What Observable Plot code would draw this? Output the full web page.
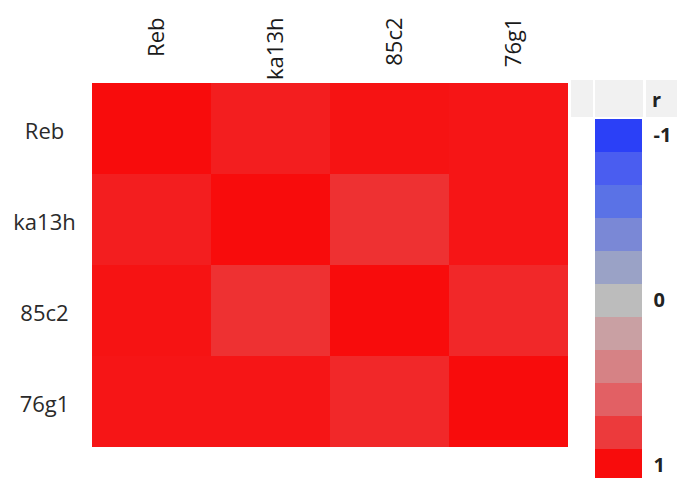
<!DOCTYPE html>
<html>
<head>
<meta charset="utf-8">
<script src="https://cdn.jsdelivr.net/npm/d3@7"></script>
<script src="https://cdn.jsdelivr.net/npm/@observablehq/plot@0.6"></script>
<style>
  html, body { margin: 0; padding: 0; background: #fff; overflow: hidden; }
  #wrap { position: relative; width: 677px; height: 478px; overflow: hidden; }
  #main { position: absolute; left: 0; top: 0; }
  #legend { position: absolute; left: 570px; top: 0; }
  .hdr { position: absolute; top: 80px; height: 37px; background: #f1f1f1; }
  #rlab { position: absolute; left: 652px; top: 86px; font: 700 20px "Open Sans", sans-serif; color: #222; }
</style>
</head>
<body>
<div id="wrap">
  <div id="main"></div>
  <div class="hdr" style="left:571px;width:22px"></div>
  <div class="hdr" style="left:595px;width:48px"></div>
  <div class="hdr" style="left:646px;width:31px"></div>
  <div id="legend"></div>
  <div id="rlab">r</div>
</div>
<script>
// Variables (rows and columns of the correlation matrix)
const variables = ["Reb", "ka13h", "85c2", "76g1"];
// Correlation values, one row per variable
const rowReb   = [1.00, 0.92, 0.97, 0.96];
const rowKa13h = [0.92, 1.00, 0.84, 0.96];
const row85c2  = [0.97, 0.84, 1.00, 0.88];
const row76g1  = [0.96, 0.96, 0.88, 1.00];
// Color legend steps and their colors
const legendSteps = [-1, -0.8, -0.6, -0.4, -0.2, 0, 0.2, 0.4, 0.6, 0.8, 1];
const legendColors = ["#2b40f7", "#4a5df0", "#5a72e6", "#7a88d6", "#9aa2c6", "#bcbcbc",
                      "#c9a0a3", "#d68285", "#e26064", "#ec3a3c", "#f80c0c"];
const legendLabels = [-1, 0, 1];

const matrix = [rowReb, rowKa13h, row85c2, row76g1];
const cells = [];
matrix.forEach((vals, i) => vals.forEach((r, j) => cells.push({row: variables[i], col: variables[j], r})));

const colorScale = {type: "linear", domain: legendSteps, range: legendColors, interpolate: "rgb"};
const font = '"Open Sans", sans-serif';

const main = Plot.plot({
  width: 568, height: 478,
  marginLeft: 92, marginRight: 0, marginTop: 82, marginBottom: 30,
  x: {domain: variables, padding: 0, axis: null, label: null},
  y: {domain: variables, padding: 0, axis: null, label: null},
  color: colorScale,
  style: {fontFamily: font, fontSize: "22px", color: "#222", background: "transparent", overflow: "visible"},
  marks: [
    Plot.cell(cells, {x: "col", y: "row", fill: "r", inset: 0}),
    Plot.axisX({anchor: "top", label: null, tickSize: 0, tickRotate: -90, tickPadding: 65, textAnchor: "end",
                lineAnchor: "middle", dx: 5, fontSize: 22, fill: "#1a1a1a"}),
    Plot.axisY({anchor: "left", label: null, tickSize: 0, tickPadding: 48, textAnchor: "middle", dy: 3,
                fontSize: 22, fill: "#2a2a2a"})
  ]
});
document.getElementById("main").appendChild(main);

const legend = Plot.plot({
  width: 107, height: 483,
  marginLeft: 25, marginRight: 35, marginTop: 117, marginBottom: 0,
  y: {domain: legendSteps, padding: 0, axis: null, label: null},
  color: colorScale,
  style: {fontFamily: font, fontSize: "20px", background: "transparent", overflow: "visible"},
  marks: [
    Plot.cell(legendSteps, {y: d => d, fill: d => d, inset: 0}),
    Plot.axisY({anchor: "right", label: null, ticks: legendLabels, tickSize: 0, tickPadding: 11,
                tickFormat: d => String(d), fontSize: 20, fontWeight: 700, fill: "#222"})
  ]
});
document.getElementById("legend").appendChild(legend);
</script>
</body>
</html>
